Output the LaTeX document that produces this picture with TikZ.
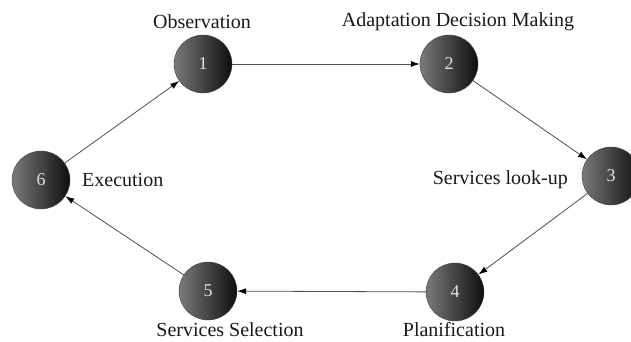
\documentclass[tikz,border=0pt]{standalone}
\usepackage{fontspec}
\setmainfont{Liberation Serif}
\usetikzlibrary{arrows.meta}
\definecolor{ballL}{HTML}{7A7A7A}
\definecolor{ballR}{HTML}{0E0E0E}
\definecolor{numc}{HTML}{E4E4E4}
\definecolor{linec}{HTML}{505050}
\begin{document}
\begin{tikzpicture}[x=1pt,y=-1pt,
  ball/.style={circle,minimum size=58pt,inner sep=0pt,left color=ballL,right color=ballR,draw=ballR!80,line width=0.4pt,
    text=numc,font=\fontsize{18}{18}\selectfont},
  lbl/.style={font=\fontsize{20}{22}\selectfont,inner sep=0pt,text=black!90},
  conn/.style={draw=linec,line width=0.8pt,-{Latex[length=9pt,width=6pt,black]}}]
\useasboundingbox (0,0) rectangle (631,341);
\node[ball] (n1) at (203,64) {1};
\node[ball] (n2) at (449,64) {2};
\node[ball] (n3) at (611,176) {3};
\node[ball] (n4) at (455,292) {4};
\node[ball] (n5) at (208,291) {5};
\node[ball] (n6) at (41,180) {6};
\node[lbl] (l1) at (202,22) {Observation};
\node[lbl] (l2) at (458,22) {Adaptation Decision Making};
\node[lbl,anchor=east] (l3) at (568,180) {Services look-up};
\node[lbl,anchor=west] (l6) at (82,180) {Execution};
\node[lbl] (l5) at (230,330) {Services Selection};
\node[lbl] (l4) at (454,330) {Planification};
\path[conn] (n1) -- (n2);
\path[conn] (n2) -- (n3);
\path[conn] (n3) -- (n4);
\path[conn] (n4) -- (n5);
\path[conn] (n5) -- (n6);
\path[conn] (n6) -- (n1);
\end{tikzpicture}
\end{document}
